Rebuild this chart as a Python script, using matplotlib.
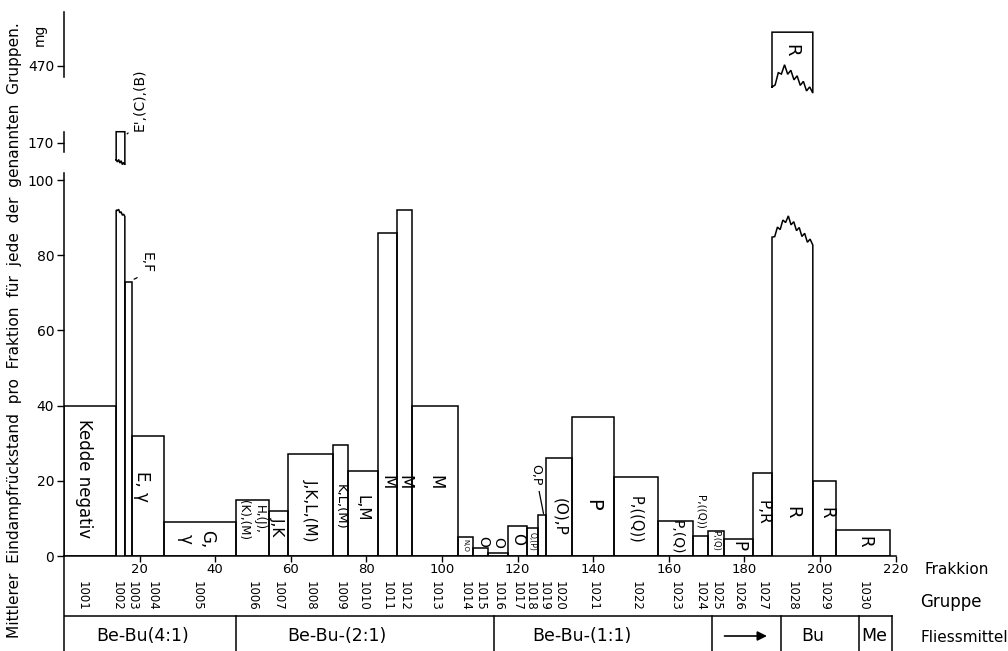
import numpy as np
import matplotlib
matplotlib.use("Agg")
import matplotlib.pyplot as plt

plt.rcParams['font.family'] = ['DejaVu Sans']

# ---------------------------------------------------------------- data
# fraction boundaries (Frakkion) of the collected groups
edges = [0, 13.8, 16.1, 18.0, 26.5, 45.5, 54.2, 59.3, 71.2, 75.1, 83.1,
         88.1, 92.1, 104.2, 108.2, 112.2, 117.5, 122.5, 125.4, 127.5, 134.4,
         145.5, 157.1, 166.4, 170.4, 174.6, 182.3, 187.3, 198.1, 204.2, 218.5]
groups = list(range(1001, 1031))
# mean evaporation residue per fraction (mg)
residue = [40, 173, 73, 32, 9, 15, 12, 27, 29.5, 22.5, 86, 92, 40, 5, 2,
           0.8, 8, 7.5, 11, 26, 37, 21, 9.3, 5.3, 6.7, 4.5, 22, 479, 20, 7]
bar_labels = ["Kedde negativ", "E',(C),(B)", "E,F", "E, \u03b3", "G,\n\u03b3",
              "H,(J),\n(K),(M)", "J,K", "J,K,L,(M)", "K,L,(M)", "L,M",
              "M", "M", "M", "N,O", "O", "O", "O", "O,(P)", "O,P", "(O),P",
              "P", "P,((Q))", "P,(Q)", "P,((Q))", "P,(Q)", "P", "P,R", "R",
              "R", "R"]
# solvent (Fliessmittel) sections along the fraction axis
solvent_edges = [0, 45.5, 113.8, 171.4, 189.7, 210.3, 219.0]
solvent_names = ["Be-Bu(4:1)", "Be-Bu-(2:1)", "Be-Bu-(1:1)", "\u2192", "Bu", "Me"]
x_ticks = [20, 40, 60, 80, 100, 120, 140, 160, 180, 200, 220]
y_ticks = [0, 20, 40, 60, 80, 100]

# ---------------------------------------------------------------- layout
W, H = 1008, 651
PX_X = 3.78          # pixels per fraction unit
PX_Y = 3.76          # pixels per mg
LEFT = 64
AX_W = 220 * PX_X
LW = 1.1


def fig_axes(top_px, bottom_px):
    return fig.add_axes([LEFT / W, (H - bottom_px) / H, AX_W / W,
                         (bottom_px - top_px) / H])


fig = plt.figure(figsize=(W / 100, H / 100), dpi=100)
fig.patch.set_facecolor('white')

ax = fig_axes(173, 556)          # main range 0 ... ~100 mg
ax_mid = fig_axes(128, 168)      # around 170 mg
ax_top = fig_axes(8, 96)         # around 470 mg
ax_tab = fig_axes(556, 651)      # group / solvent table

ax.set_xlim(0, 220)
ax.set_ylim(0, 383 / PX_Y)
ax_mid.set_xlim(0, 220)
ax_mid.set_ylim(170 - 25 / PX_Y, 170 + 15 / PX_Y)
ax_top.set_xlim(0, 220)
ax_top.set_ylim(470 - 30 / PX_Y, 470 + 58 / PX_Y)
ax_tab.set_xlim(0, 220)
ax_tab.set_ylim(95, 0)

for a in (ax, ax_mid, ax_top, ax_tab):
    a.set_facecolor('none')
    for s in ('top', 'right'):
        a.spines[s].set_visible(False)
    for s in ('left', 'bottom'):
        a.spines[s].set_linewidth(LW)
    a.tick_params(direction='out', length=5, width=1, labelsize=10,
                  colors='black', pad=2)
ax.tick_params(axis='x', length=4, pad=1, labelsize=9.5)

for a in (ax_mid, ax_top, ax_tab):
    a.spines['bottom'].set_visible(False)
    a.set_xticks([])
ax_tab.spines['left'].set_visible(False)
ax_tab.set_yticks([])

ax.set_xticks(x_ticks)
ax.set_yticks(y_ticks)
ax_mid.set_yticks([170])
ax_top.set_yticks([470])
ax_mid.spines['left'].set_bounds(167.6, 172.9)
ax_top.spines['left'].set_bounds(467.1, 484.4)

lefts = np.array(edges[:-1])
widths = np.diff(edges)
centers = lefts + widths / 2
res = np.array(residue, dtype=float)
cap = ax.get_ylim()[1]
normal = res < cap

# ordinary bars
ax.bar(lefts[normal], res[normal], width=widths[normal], align='edge',
       fill=False, edgecolor='black', linewidth=LW)


def torn(x0, x1, ys, tp, yp, ye, n, amp):
    """Jagged edge from (x0, ys) over a peak at fraction tp to (x1, ye)."""
    t = np.linspace(0, 1, n)
    base = np.interp(t, [0, tp, 1], [ys, yp, ye])
    wig = amp * np.where(np.arange(n) % 2 == 0, 1.0, -1.0)
    wig[0] = wig[-1] = 0
    return x0 + t * (x1 - x0), base + wig


# broken bars: lower part with a torn top, upper piece with a torn bottom
for i in np.where(~normal)[0]:
    x0, x1, v = edges[i], edges[i + 1], res[i]
    if v < 300:
        lo_top = 92.0
        tx, ty = torn(x0, x1, lo_top, 0.1, lo_top + 0.3, lo_top - 1.7, 8, 0.3)
        a_up, ys, tp, yp, ye, n, amp = ax_mid, v - 7.5, 0.5, v - 8.0, v - 8.8, 8, 0.4
    else:
        lo_top = 84.8
        tx, ty = torn(x0, x1, lo_top, 0.37, 90.0, 82.7, 16, 0.8)
        a_up, ys, tp, yp, ye, n, amp = ax_top, v - 14.6, 0.28, v - 9.3, v - 16.2, 14, 0.9
    ax.plot(np.r_[x0, tx, x1], np.r_[0, ty, 0], color='black', lw=LW,
            solid_joinstyle='miter')
    bx, by = torn(x0, x1, ys, tp, yp, ye, n, amp)
    a_up.plot(np.r_[bx, x1, x0, x0], np.r_[by, v, v, ys], color='black',
              lw=LW, solid_joinstyle='miter')

# labels inside / above the bars: (x offset from centre, y, fontsize)
label_layout = {
    0: (-1.6, 20.7, 12), 3: (-1.6, 18.4, 12), 4: (-1.0, 4.6, 12),
    5: (-0.3, 9.6, 8.5), 6: (-0.2, 7.7, 11), 7: (-0.2, 12.2, 11),
    8: (-0.1, 13.0, 9.5), 9: (-0.2, 12.8, 11), 10: (0, 19.7, 12),
    11: (0, 19.7, 12), 12: (0, 19.7, 12), 13: (0, 2.7, 5),
    14: (0.6, 3.8, 10), 15: (0.1, 3.5, 10), 16: (-0.1, 4.6, 11),
    17: (-0.1, 3.9, 5.5), 19: (0.2, 10.4, 11), 20: (-0.2, 13.6, 14),
    21: (0.0, 9.6, 10.5), 22: (0.2, 5.0, 10), 23: (0.1, 11.8, 7.5),
    24: (0.0, 4.2, 6), 25: (-0.1, 2.6, 12), 26: (0.1, 11.7, 11),
    27: (0.0, 11.7, 13), 28: (0.6, 11.4, 12), 29: (0.4, 3.7, 12),
}
for i, (dx, y, fs) in label_layout.items():
    ax.text(centers[i] + dx, y, bar_labels[i], rotation=-90, ha='center',
            va='center', fontsize=fs, linespacing=1.25)

# label of the topmost piece of group 1028
ax_top.text(centers[27] - 0.2, 474.3, bar_labels[27], rotation=-90,
            ha='center', va='center', fontsize=13)

# callout labels with leader lines
ax_mid.annotate(bar_labels[1], xy=(edges[2] + 0.3, residue[1] - 0.8),
                xytext=(20.1, 181.5), rotation=90, ha='center', va='center',
                fontsize=10, annotation_clip=False,
                arrowprops=dict(arrowstyle='-', lw=0.9, color='black',
                                connectionstyle='arc3,rad=-0.3',
                                shrinkA=2, shrinkB=1))
ax.annotate(bar_labels[2], xy=(edges[3] + 0.2, residue[2] + 0.5),
            xytext=(21.9, 78.0), rotation=-90, ha='center', va='center',
            fontsize=10, annotation_clip=False,
            arrowprops=dict(arrowstyle='-', lw=0.9, color='black',
                            connectionstyle='arc3,rad=-0.3',
                            shrinkA=2, shrinkB=1))
ax.annotate(bar_labels[18], xy=(centers[18] + 0.4, residue[18] + 0.3),
            xytext=(centers[18] - 1.6, 21.5), rotation=-90, ha='center',
            va='center', fontsize=9, annotation_clip=False,
            arrowprops=dict(arrowstyle='-', lw=0.9, color='black',
                            shrinkA=2, shrinkB=0))

# ---------------------------------------------------------------- table
group_dx = {0: -2.1, 1: -0.9, 2: 0.9, 3: 1.05, 4: -0.8, 17: -0.6, 18: 0.6}
for i, g in enumerate(groups):
    ax_tab.text(centers[i] + group_dx.get(i, 0), 40, str(g), rotation=-90,
                ha='center', va='center', fontsize=8.5)

ax_tab.plot([0, 0], [0, 95], color='black', lw=LW, clip_on=False)
ax_tab.plot([0, solvent_edges[-1]], [60, 60], color='black', lw=LW)
for xe in solvent_edges[1:]:
    ax_tab.plot([xe, xe], [60, 95], color='black', lw=LW, clip_on=False)

solvent_dx = [-2.0, -7.5, -5.5, 0.0, -2.0, -0.2]
for k, name in enumerate(solvent_names):
    xc = (solvent_edges[k] + solvent_edges[k + 1]) / 2 + solvent_dx[k]
    if name == "\u2192":
        ax_tab.annotate('', xy=(solvent_edges[k + 1] - 3.0, 80),
                        xytext=(solvent_edges[k] + 2.6, 80),
                        arrowprops=dict(arrowstyle='-|>', lw=1.2,
                                        color='black', mutation_scale=14))
    else:
        ax_tab.text(xc, 80, name, ha='center', va='center', fontsize=12.5)

# ---------------------------------------------------------------- captions
fig.text(15 / W, 1 - 330 / H,
         "Mittlerer  Eindampfrückstand  pro  Fraktion  für  jede  der  "
         "genannten  Gruppen.",
         rotation=90, ha='center', va='center', fontsize=11.1)
fig.text(40 / W, 1 - 35 / H, "mg", rotation=90, ha='center', va='center',
         fontsize=10)
fig.text(925 / W, 1 - 570 / H, "Frakkion", ha='left', va='center', fontsize=11)
fig.text(920 / W, 1 - 602 / H, "Gruppe", ha='left', va='center', fontsize=12)
fig.text(920 / W, 1 - 638 / H, "Fliessmittel", ha='left', va='center',
         fontsize=11)

fig.savefig("out.png", dpi=100, facecolor='white')
